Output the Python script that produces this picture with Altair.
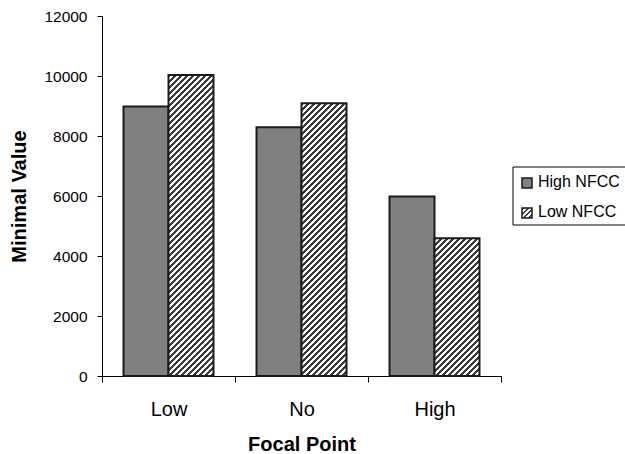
import altair as alt
import pandas as pd

categories = ["Low", "No", "High"]
series = ["High NFCC", "Low NFCC"]
high_nfcc = [8980, 8290, 5980]
low_nfcc = [10030, 9090, 4590]
y_ticks = [0, 2000, 4000, 6000, 8000, 10000, 12000]

rows = []
for c, a, b in zip(categories, high_nfcc, low_nfcc):
    rows.append({"focal": c, "group": series[0], "value": a})
    rows.append({"focal": c, "group": series[1], "value": b})
df = pd.DataFrame(rows)
legend_df = pd.DataFrame({"group": series})

PLOT_W, PLOT_H = 399, 360
YMAX = 12000
STEP = PLOT_W / len(categories)
OFF_PAD = 0.478
BAR_W = STEP / (len(series) + 2 * OFF_PAD)
FONT = "Liberation Sans"


def hatch(w, h, period=6.0, frac=0.42, dark="#3a3a3a", light="#ffffff"):
    d = w * w + h * h
    T = period * w / d
    tmax = (w + h) * w / d
    stops = []
    k = 0
    while k * T <= tmax + 1e-9 and k * T < 1:
        a = k * T
        b = min(a + frac * T, 1.0)
        c = min((k + 1) * T, 1.0)
        stops += [
            {"offset": round(a, 6), "color": dark},
            {"offset": round(b, 6), "color": dark},
            {"offset": round(b, 6), "color": light},
            {"offset": round(c, 6), "color": light},
        ]
        k += 1
    return {"gradient": "linear", "stops": stops, "x1": 0, "y1": 0, "x2": 1, "y2": h / w}


x_enc = alt.X(
    "focal:N",
    sort=categories,
    scale=alt.Scale(domain=categories, paddingInner=0, paddingOuter=0),
    axis=alt.Axis(
        title="Focal Point",
        labelAngle=0,
        tickBand="extent",
        labelFontSize=20,
        labelFont=FONT,
        labelColor="black",
        labelBaseline="alphabetic",
        labelPadding=33,
        tickSize=6,
        tickColor="black",
        domainColor="black",
        titleFontSize=20,
        titleFont=FONT,
        titleFontWeight="bold",
        titleColor="black",
        titleY=74,
        titleBaseline="alphabetic",
        grid=False,
    ),
)
xo_enc = alt.XOffset(
    "group:N", scale=alt.Scale(domain=series, paddingInner=0, paddingOuter=OFF_PAD)
)
y_enc = alt.Y(
    "value:Q",
    scale=alt.Scale(domain=[0, YMAX], nice=False),
    axis=alt.Axis(
        values=y_ticks,
        format="d",
        title="Minimal Value",
        labelFontSize=15.5,
        labelFont=FONT,
        labelColor="black",
        labelPadding=10,
        tickSize=5,
        tickColor="black",
        domainColor="black",
        titleFontSize=20,
        titleFont=FONT,
        titleFontWeight="bold",
        titleColor="black",
        titleX=-77,
        titleBaseline="alphabetic",
        grid=False,
    ),
)

base = alt.Chart(df).encode(x=x_enc, xOffset=xo_enc, y=y_enc)

layers = [
    base.transform_filter(alt.datum.group == series[0]).mark_bar(
        fill="#808080", stroke="#1a1a1a", strokeWidth=2
    )
]
for c, v in zip(categories, low_nfcc):
    h = v * PLOT_H / YMAX
    layers.append(
        base.transform_filter(
            (alt.datum.group == series[1]) & (alt.datum.focal == c)
        ).mark_bar(fill=hatch(BAR_W, h), stroke="#1a1a1a", strokeWidth=2)
    )

leg = alt.Chart(legend_df)
layers.append(
    leg.transform_filter(alt.datum.group == series[0]).mark_rect(
        fill="white", stroke="black", strokeWidth=1
    ).encode(x=alt.value(411), x2=alt.value(600), y=alt.value(151), y2=alt.value(209))
)
sq_y = [162, 192]
txt_y = [171, 201]
fills = ["#808080", hatch(10, 10, period=5.0, frac=0.5)]
for s, sy, ty, f in zip(series, sq_y, txt_y, fills):
    layers.append(
        leg.transform_filter(alt.datum.group == s).mark_rect(
            fill=f, stroke="#1a1a1a", strokeWidth=1.5
        ).encode(x=alt.value(420), x2=alt.value(430), y=alt.value(sy), y2=alt.value(sy + 10))
    )
    layers.append(
        leg.transform_filter(alt.datum.group == s).mark_text(
            align="left", baseline="alphabetic", fontSize=16, font=FONT, color="black"
        ).encode(text="group:N", x=alt.value(436), y=alt.value(ty))
    )

chart = (
    alt.layer(*layers)
    .properties(
        width=PLOT_W,
        height=PLOT_H,
        autosize=alt.AutoSizeParams(type="none"),
        padding={"left": 102, "top": 16, "right": 124, "bottom": 78},
        background="white",
    )
    .configure_view(stroke=None)
)

chart.save("out.html", embed_options={"renderer": "svg", "actions": False})
